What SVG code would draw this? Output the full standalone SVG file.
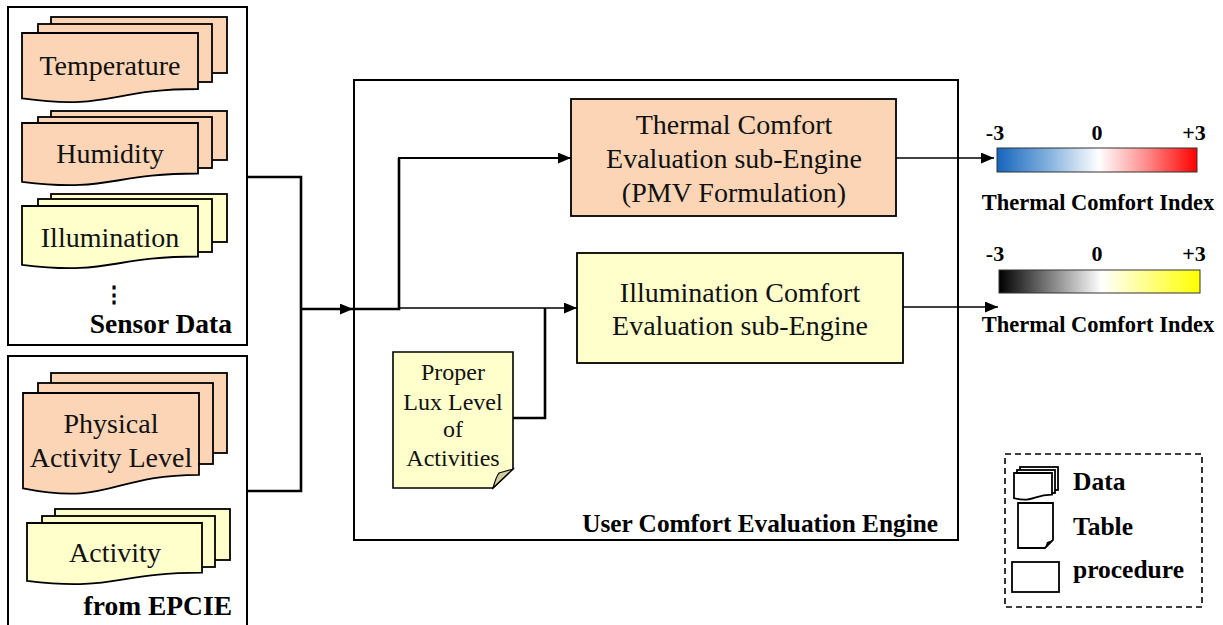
<svg xmlns="http://www.w3.org/2000/svg" width="1223" height="625" viewBox="0 0 1223 625">
  <defs>
    <style>
      .frame { fill: #ffffff; stroke: #000000; stroke-width: 2; }
      .sheet-p { fill: #FBD5B5; stroke: #000000; stroke-width: 1.8; }
      .sheet-y { fill: #FFFFCC; stroke: #000000; stroke-width: 1.8; }
      .proc-p { fill: #FBD5B5; stroke: #000000; stroke-width: 1.8; }
      .proc-y { fill: #FFFFCC; stroke: #000000; stroke-width: 1.8; }
      .txt { font-family: "Liberation Serif", "Times New Roman", serif; font-size: 28px; fill: #111111; text-anchor: middle; }
      .note { font-family: "Liberation Serif", "Times New Roman", serif; font-size: 24px; fill: #111111; text-anchor: middle; }
      .bold { font-family: "Liberation Serif", "Times New Roman", serif; font-weight: bold; fill: #000000; }
      .wire { fill: none; stroke: #000000; stroke-width: 2.6; }
      .wire-mid { fill: none; stroke: #000000; stroke-width: 2.1; }
      .wire-thin { fill: none; stroke: #000000; stroke-width: 1.6; }
      .legend-icon { fill: #ffffff; stroke: #000000; stroke-width: 1.8; }
    </style>
    <marker id="arrow" viewBox="0 0 12 10" refX="12" refY="5" markerWidth="13" markerHeight="11" markerUnits="userSpaceOnUse" orient="auto">
      <path d="M0,0 L12,5 L0,10 Z" fill="#000000"/>
    </marker>
    <linearGradient id="thermalScale" x1="0" y1="0" x2="1" y2="0">
      <stop offset="0" stop-color="#1565BD"/>
      <stop offset="0.25" stop-color="#7FAFDC"/>
      <stop offset="0.51" stop-color="#FFFFFF"/>
      <stop offset="0.75" stop-color="#FF8A8A"/>
      <stop offset="1" stop-color="#FF0000"/>
    </linearGradient>
    <linearGradient id="lightScale" x1="0" y1="0" x2="1" y2="0">
      <stop offset="0" stop-color="#000000"/>
      <stop offset="0.51" stop-color="#FFFFFF"/>
      <stop offset="1" stop-color="#FFFF00"/>
    </linearGradient>
  </defs>

  <rect width="1223" height="625" fill="#ffffff"/>

  <!-- Sensor data panel -->
  <g id="sensor-data">
    <rect class="frame" x="8" y="7" width="239" height="338"/>
    <g id="temperature">
      <rect class="sheet-p" x="51" y="17" width="176" height="56"/>
      <rect class="sheet-p" x="38" y="24" width="174" height="58"/>
      <path class="sheet-p" d="M22,33 H198 V89 C110,89 110,110.5 22,98.4 Z"/>
      <text class="txt" x="110" y="75">Temperature</text>
    </g>
    <g id="humidity">
      <rect class="sheet-p" x="51" y="111" width="176" height="49"/>
      <rect class="sheet-p" x="38" y="117" width="174" height="51"/>
      <path class="sheet-p" d="M22,123 H198 V173.5 C110,173.5 110,192.7 22,181.8 Z"/>
      <text class="txt" x="110" y="163">Humidity</text>
    </g>
    <g id="illumination">
      <rect class="sheet-y" x="51" y="194" width="176" height="48"/>
      <rect class="sheet-y" x="38" y="199" width="174" height="53"/>
      <path class="sheet-y" d="M22,206 H198 V256.5 C110,256.5 110,275.7 22,264.8 Z"/>
      <text class="txt" x="110" y="247">Illumination</text>
    </g>
    <text class="bold" x="114" y="302" font-size="22" text-anchor="middle" font-family="DejaVu Sans, sans-serif">⋮</text>
    <text class="bold" x="232" y="333" font-size="27.5" text-anchor="end">Sensor Data</text>
  </g>

  <!-- EPCIE panel -->
  <g id="epcie">
    <rect class="frame" x="8" y="356" width="239" height="280"/>
    <g id="physical-activity-level">
      <rect class="sheet-p" x="51" y="373" width="176" height="80"/>
      <rect class="sheet-p" x="38" y="383" width="175" height="81"/>
      <path class="sheet-p" d="M23,393 H199 V474.8 C111,474.8 111,505.9 23,488.3 Z"/>
      <text class="txt" x="111" y="433">Physical</text>
      <text class="txt" x="111" y="467">Activity Level</text>
    </g>
    <g id="activity">
      <rect class="sheet-y" x="55" y="509" width="175" height="51"/>
      <rect class="sheet-y" x="42" y="516" width="173" height="51"/>
      <path class="sheet-y" d="M27,523 H202 V572.7 C114.5,572.7 114.5,591.6 27,580.9 Z"/>
      <text class="txt" x="115" y="562">Activity</text>
    </g>
    <text class="bold" x="232" y="615" font-size="27.5" text-anchor="end">from EPCIE</text>
  </g>

  <!-- Evaluation engine -->
  <g id="engine">
    <rect class="frame" x="354" y="80" width="604" height="460"/>
    <text class="bold" x="938" y="532" font-size="25.3" text-anchor="end">User Comfort Evaluation Engine</text>
  </g>

  <g id="thermal-engine">
    <rect class="proc-p" x="571" y="99" width="325" height="117"/>
    <text class="txt" x="734" y="134">Thermal Comfort</text>
    <text class="txt" x="734" y="168">Evaluation sub-Engine</text>
    <text class="txt" x="734" y="202">(PMV Formulation)</text>
  </g>

  <g id="illumination-engine">
    <rect class="proc-y" x="577" y="253" width="326" height="110"/>
    <text class="txt" x="740" y="302">Illumination Comfort</text>
    <text class="txt" x="740" y="335">Evaluation sub-Engine</text>
  </g>

  <g id="lux-table">
    <path d="M393,352 H513 V469 L493,488 H393 Z" fill="#FFFFCC" stroke="#000000" stroke-width="1.6"/>
    <path d="M513,469 L493,488 Q496,477 499,473 Q505,471 513,469 Z" fill="#CFCC9E" stroke="#000000" stroke-width="1.2"/>
    <text class="note" x="453" y="380">Proper</text>
    <text class="note" x="453" y="410">Lux Level</text>
    <text class="note" x="453" y="437">of</text>
    <text class="note" x="453" y="466">Activities</text>
  </g>

  <!-- Output scales -->
  <g id="thermal-index">
    <text class="bold" x="995" y="140" font-size="22" text-anchor="middle">-3</text>
    <text class="bold" x="1097" y="140" font-size="22" text-anchor="middle">0</text>
    <text class="bold" x="1194" y="140" font-size="22" text-anchor="middle">+3</text>
    <rect x="997" y="148" width="200" height="24" fill="url(#thermalScale)" stroke="#333333" stroke-width="1"/>
    <text class="bold" x="1098" y="210" font-size="22.5" text-anchor="middle">Thermal Comfort Index</text>
  </g>

  <g id="illumination-index">
    <text class="bold" x="995" y="261" font-size="22" text-anchor="middle">-3</text>
    <text class="bold" x="1097" y="261" font-size="22" text-anchor="middle">0</text>
    <text class="bold" x="1194" y="261" font-size="22" text-anchor="middle">+3</text>
    <rect x="999" y="270" width="201" height="23" fill="url(#lightScale)" stroke="#333333" stroke-width="1"/>
    <text class="bold" x="1098" y="332" font-size="22.5" text-anchor="middle">Thermal Comfort Index</text>
  </g>

  <!-- Legend -->
  <g id="legend">
    <rect x="1005" y="454" width="197" height="153" fill="none" stroke="#000000" stroke-width="1.6" stroke-dasharray="6,4"/>
    <rect class="legend-icon" x="1020" y="467" width="38" height="23"/>
    <rect class="legend-icon" x="1017" y="470" width="38" height="23"/>
    <path class="legend-icon" d="M1014,473 H1052 V494.7 C1033,494.7 1033,502.9 1014,498.2 Z"/>
    <path class="legend-icon" d="M1018,503 H1053 V540 L1045,548 H1018 Z"/>
    <path d="M1053,540 L1045,548 L1047,542 Z" fill="#000000"/>
    <rect class="legend-icon" x="1012" y="562" width="47" height="30"/>
    <text class="bold" x="1073" y="490" font-size="25.5">Data</text>
    <text class="bold" x="1073" y="535" font-size="25.5">Table</text>
    <text class="bold" x="1073" y="578" font-size="25.5">procedure</text>
  </g>

  <!-- Connectors -->
  <g id="connectors">
    <polyline class="wire" points="247,177 301,177 301,491 247,491"/>
    <line class="wire" x1="301" y1="309" x2="353" y2="309" marker-end="url(#arrow)"/>
    <polyline class="wire" points="353,309 399,309 399,158"/>
    <polyline class="wire-mid" points="399,159 399,158 571,158" marker-end="url(#arrow)"/>
    <line class="wire-thin" x1="399" y1="308" x2="577" y2="308" marker-end="url(#arrow)"/>
    <polyline class="wire" points="513,418 545,418 545,308"/>
    <line class="wire-thin" x1="896" y1="158" x2="994" y2="158" marker-end="url(#arrow)"/>
    <line class="wire-thin" x1="903" y1="307" x2="998" y2="307" marker-end="url(#arrow)"/>
  </g>
</svg>
